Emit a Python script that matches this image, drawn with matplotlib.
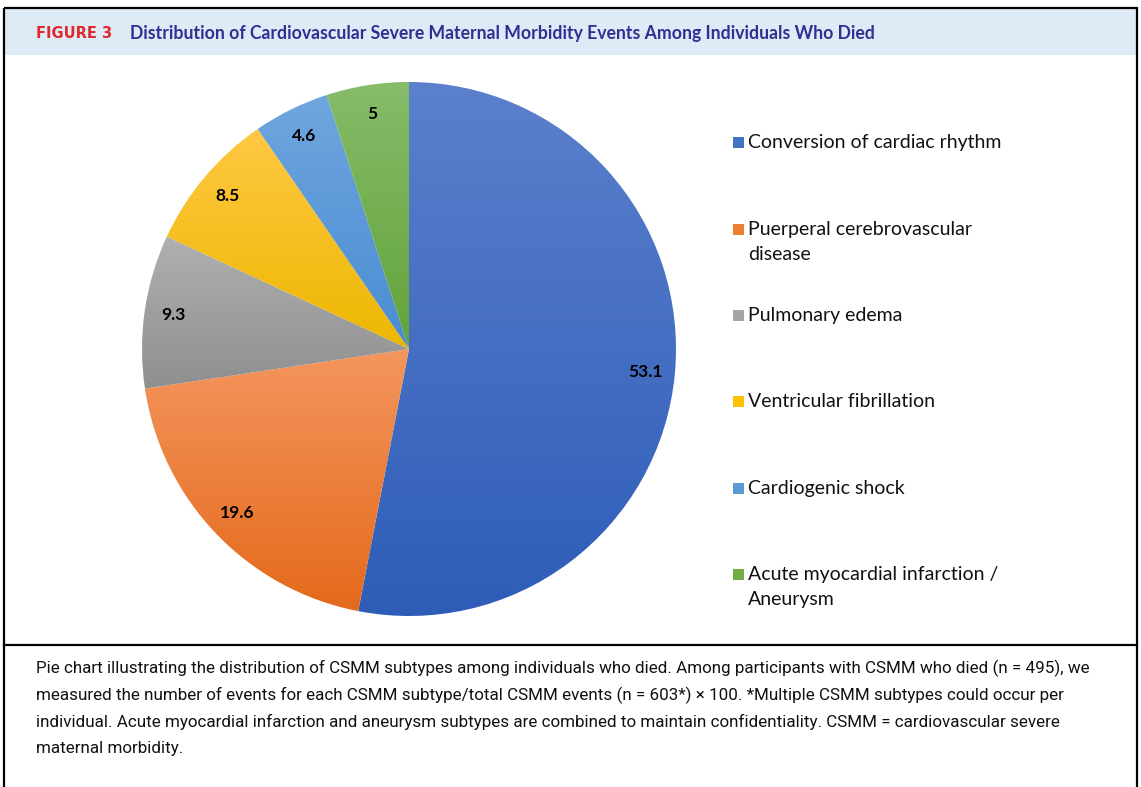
import numpy as np
import matplotlib
matplotlib.use('Agg')
from matplotlib import pyplot as plt
from matplotlib.colors import LinearSegmentedColormap
from matplotlib.patches import Rectangle

# data
categories = ['Conversion of cardiac rhythm',
              'Puerperal cerebrovascular\ndisease',
              'Pulmonary edema',
              'Ventricular fibrillation',
              'Cardiogenic shock',
              'Acute myocardial infarction /\nAneurysm']
values = [53.1, 19.6, 9.3, 8.5, 4.6, 5]
value_labels = ['53.1', '19.6', '9.3', '8.5', '4.6', '5']

# office palette, (top, bottom) of the gradient fill
base_colors = ['#4472C4', '#ED7D31', '#A5A5A5', '#FFC000', '#5B9BD5', '#70AD47']
grad_top = ['#5B80CC', '#F4965E', '#B0B0B0', '#FFC843', '#6FA6DE', '#86BC6A']
grad_bot = ['#2E5DB8', '#E4691B', '#8F8F8F', '#EDB700', '#4A8CD2', '#62A33A']

title_tag = 'FIGURE 3'
title = 'Distribution of Cardiovascular Severe Maternal Morbidity Events Among Individuals Who Died'
caption = ['Pie chart illustrating the distribution of CSMM subtypes among individuals who died. Among participants with CSMM who died (n = 495), we',
           'measured the number of events for each CSMM subtype/total CSMM events (n = 603*) \u00d7 100. *Multiple CSMM subtypes could occur per',
           'individual. Acute myocardial infarction and aneurysm subtypes are combined to maintain confidentiality. CSMM = cardiovascular severe',
           'maternal morbidity.']

W, H = 1141, 787
fig = plt.figure(figsize=(W / 100, H / 100), dpi=100)

# background axes in pixel coordinates
bg = fig.add_axes([0, 0, 1, 1])
bg.set_xlim(0, W)
bg.set_ylim(H, 0)
bg.axis('off')

bg.add_patch(Rectangle((5, 9), 1131, 46, facecolor='#DEEAF6', edgecolor='none'))
bg.add_patch(Rectangle((4, 8), 1133, 790, facecolor='none', edgecolor='black', lw=1.6))
bg.plot([4, 1137], [645, 645], color='black', lw=1.6)

bg.text(36, 33, title_tag, color='#E0282E', fontsize=10.5, fontweight='bold',
        family='DejaVu Sans', va='center', ha='left')
bg.text(130, 33, title, color='#2E3192', fontsize=12.7, fontweight='bold',
        family='Lato', va='center', ha='left')

for i, line in enumerate(caption):
    bg.text(36, 668 + i * 27, line, fontsize=12.25, family='Roboto',
            va='center', ha='left', color='#111111')

# legend drawn by hand: square + label
leg_y = [142, 229, 315, 401, 488, 574]
for c, lab, y in zip(base_colors, categories, leg_y):
    bg.add_patch(Rectangle((733, y - 5.5), 11, 11, facecolor=c, edgecolor='none'))
    bg.text(748, y - 8, lab, fontsize=14, family='Lato', va='top', ha='left',
            linespacing=1.55, color='#111111')

# pie axes
cx, cy, r = 409, 349, 267
ax = fig.add_axes([(cx - r) / W, (H - cy - r) / H, 2 * r / W, 2 * r / H])
wedges, _ = ax.pie(values, startangle=90, counterclock=False, radius=1,
                   wedgeprops=dict(linewidth=0))

for w, ct, cb, lab in zip(wedges, grad_top, grad_bot, value_labels):
    bb = w.get_path().get_extents()
    cmap = LinearSegmentedColormap.from_list('g', [cb, ct])
    grad = np.linspace(0, 1, 256).reshape(-1, 1)
    im = ax.imshow(grad, extent=[bb.x0, bb.x1, bb.y0, bb.y1], origin='lower',
                   cmap=cmap, aspect='auto', zorder=1, interpolation='bicubic')
    im.set_clip_path(w)
    w.set_facecolor('none')
    ang = np.deg2rad((w.theta1 + w.theta2) / 2)
    ax.text(0.89 * np.cos(ang), 0.89 * np.sin(ang), lab, ha='center', va='center',
            fontsize=12.5, fontweight='bold', family='Lato', zorder=3)

ax.set_xlim(-1, 1)
ax.set_ylim(-1, 1)
ax.set_aspect('equal')
ax.axis('off')

fig.savefig('out.png', dpi=100)
